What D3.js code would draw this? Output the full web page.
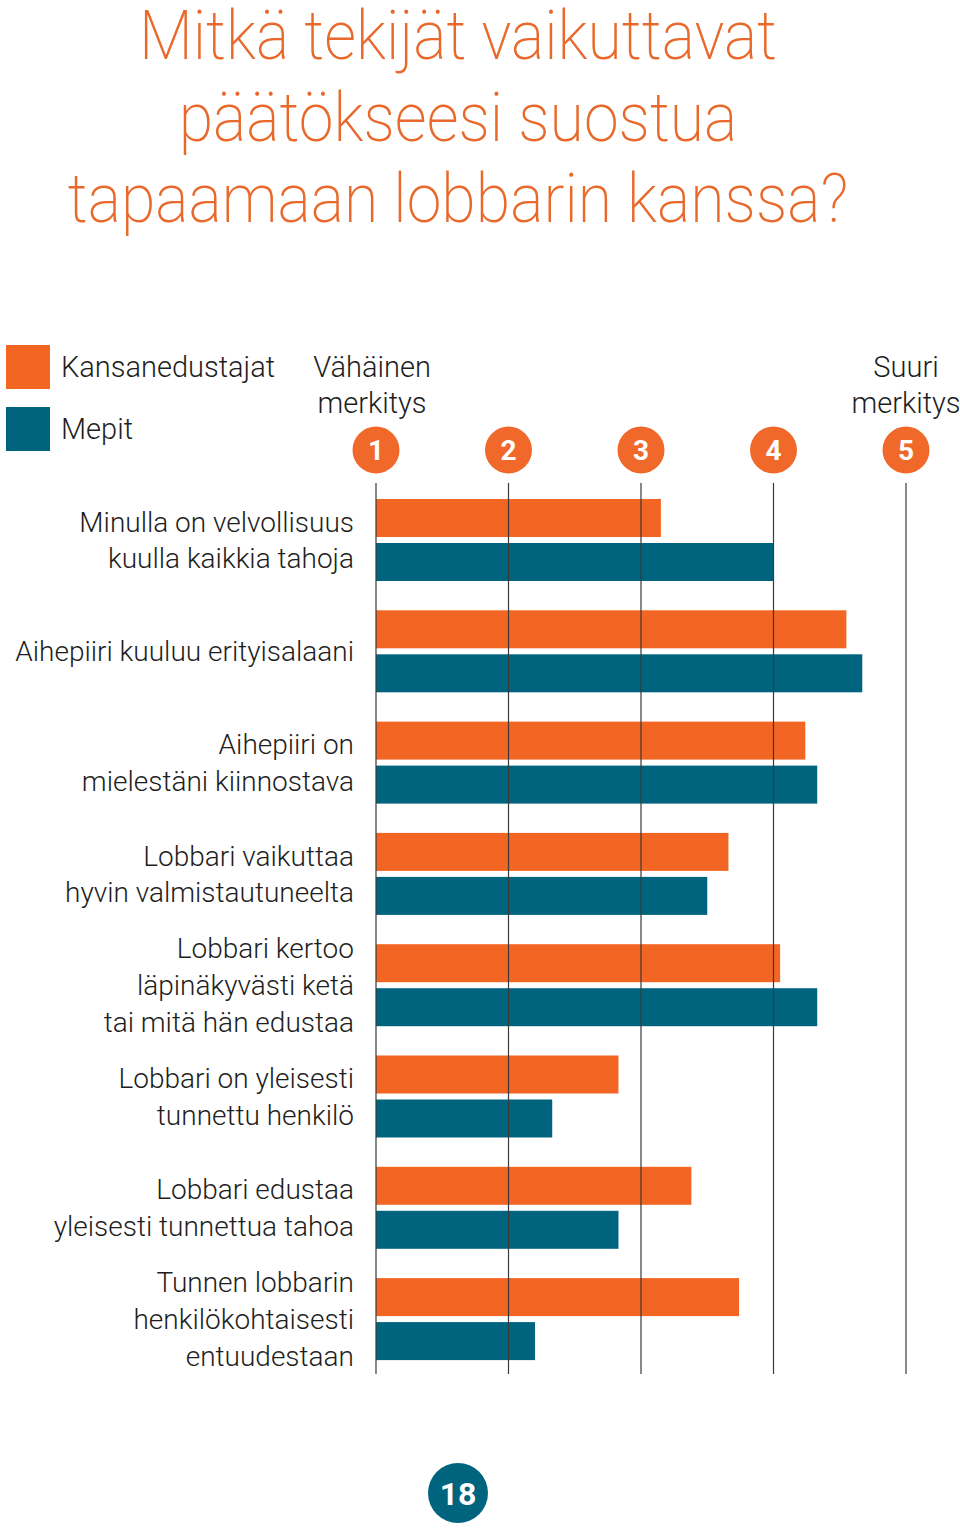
<!DOCTYPE html>
<html>
<head>
<meta charset="utf-8">
<script src="https://cdn.jsdelivr.net/npm/d3@7"></script>
<style>
  html, body { margin: 0; padding: 0; background: #fff; }
  svg { display: block; }
  text { font-family: Roboto, "Open Sans", sans-serif; }
</style>
</head>
<body>
<svg id="chart" width="960" height="1531"></svg>
<script>
// ---------- DATA ----------
const titleLines = ["Mitkä tekijät vaikuttavat", "päätökseesi suostua", "tapaamaan lobbarin kanssa?"];
const seriesNames = ["Kansanedustajat", "Mepit"];
const categories = [
  ["Minulla on velvollisuus", "kuulla kaikkia tahoja"],
  ["Aihepiiri kuuluu erityisalaani"],
  ["Aihepiiri on", "mielestäni kiinnostava"],
  ["Lobbari vaikuttaa", "hyvin valmistautuneelta"],
  ["Lobbari kertoo", "läpinäkyvästi ketä", "tai mitä hän edustaa"],
  ["Lobbari on yleisesti", "tunnettu henkilö"],
  ["Lobbari edustaa", "yleisesti tunnettua tahoa"],
  ["Tunnen lobbarin", "henkilökohtaisesti", "entuudestaan"]
];
const kansanedustajat = [3.15, 4.55, 4.24, 3.66, 4.05, 2.83, 3.38, 3.74];
const mepit = [4.00, 4.67, 4.33, 3.50, 4.33, 2.33, 2.83, 2.20];
const scaleTicks = [1, 2, 3, 4, 5];
const lowLabel = ["Vähäinen", "merkitys"];
const highLabel = ["Suuri", "merkitys"];
const pageNumber = "18";

// ---------- STYLE ----------
const ORANGE = "#F26522";
const BLUE = "#00647F";
const TITLE = "#E8692B";
const TEXT = "#1e1e1e";
const TCOND = 0.92;    // title condensing

const svg = d3.select("#chart");

// Title
const titleG = svg.append("g");
titleLines.forEach((t, i) => {
  titleG.append("text")
    .attr("transform", `translate(458,${59 + i * 81.5}) scale(${TCOND},1)`)
    .attr("text-anchor", "middle")
    .attr("font-size", 68)
    .attr("font-weight", 200)
    .attr("fill", TITLE)
    .text(t);
});

// Scales
const x = d3.scaleLinear().domain([1, 5]).range([376, 906]);
const idx = categories.map((d, i) => i);
const step = 111.3;
const y = d3.scaleBand().domain(idx).range([499, 499 + step * categories.length]).padding(0);
const barH = 38, gap = 6;

// Legend
const legend = svg.append("g");
[ORANGE, BLUE].forEach((c, i) => {
  legend.append("rect").attr("x", 6).attr("y", 345 + i * 62).attr("width", 44).attr("height", 44).attr("fill", c);
  legend.append("text")
    .attr("x", 61).attr("y", 377 + i * 62)
    .attr("font-size", 29).attr("font-weight", 300).attr("fill", TEXT)
    .text(seriesNames[i]);
});

// End labels
function endLabel(lines, cx) {
  lines.forEach((t, j) => {
    svg.append("text")
      .attr("x", cx).attr("y", 377 + j * 36)
      .attr("text-anchor", "middle")
      .attr("font-size", 29).attr("font-weight", 300).attr("fill", TEXT)
      .text(t);
  });
}
endLabel(lowLabel, x(1) - 4);
endLabel(highLabel, x(5));

// Bars
const bars = svg.append("g");
bars.selectAll("rect.k").data(kansanedustajat).join("rect")
  .attr("class", "k")
  .attr("x", x(1)).attr("y", (d, i) => y(i))
  .attr("width", d => x(d) - x(1)).attr("height", barH)
  .attr("fill", ORANGE);
bars.selectAll("rect.m").data(mepit).join("rect")
  .attr("class", "m")
  .attr("x", x(1)).attr("y", (d, i) => y(i) + barH + gap)
  .attr("width", d => x(d) - x(1)).attr("height", barH)
  .attr("fill", BLUE);

// Grid lines (over bars)
svg.append("g").selectAll("line").data(scaleTicks).join("line")
  .attr("x1", d => x(d)).attr("x2", d => x(d))
  .attr("y1", 483).attr("y2", 1374)
  .attr("stroke", "#3a3a3a").attr("stroke-width", 1.2);

// Tick circles
const ticks = svg.append("g");
ticks.selectAll("circle").data(scaleTicks).join("circle")
  .attr("cx", d => x(d)).attr("cy", 450).attr("r", 23.5).attr("fill", "#F0692A");
ticks.selectAll("text").data(scaleTicks).join("text")
  .attr("x", d => x(d)).attr("y", 460)
  .attr("text-anchor", "middle").attr("font-size", 28).attr("font-weight", 700)
  .attr("fill", "#fff").text(d => d);

// Category labels
const labels = svg.append("g");
categories.forEach((lines, i) => {
  const cy = y(i) + barH + gap / 2;
  const n = lines.length;
  lines.forEach((t, j) => {
    labels.append("text")
      .attr("x", 354).attr("y", cy + 10 + (j - (n - 1) / 2) * 36.8)
      .attr("text-anchor", "end")
      .attr("font-size", 28).attr("font-weight", 300).attr("fill", TEXT)
      .text(t);
  });
});

// Page number
svg.append("circle").attr("cx", 458).attr("cy", 1493).attr("r", 30).attr("fill", BLUE);
svg.append("text").attr("x", 458).attr("y", 1505)
  .attr("text-anchor", "middle").attr("font-size", 32).attr("font-weight", 700)
  .attr("fill", "#fff").text(pageNumber);
</script>
</body>
</html>
